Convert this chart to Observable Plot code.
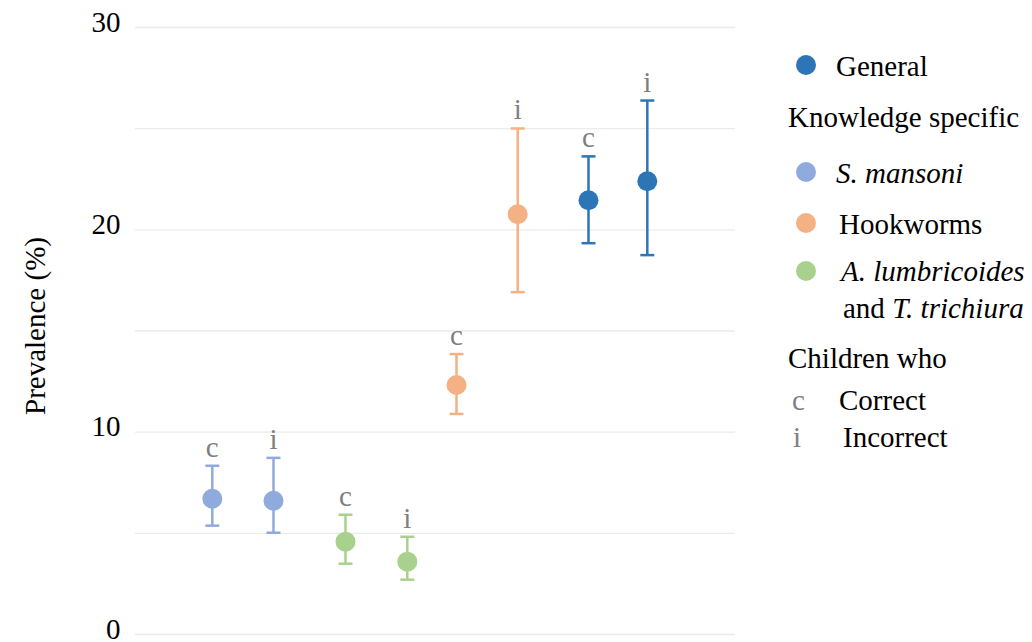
<!DOCTYPE html>
<html><head><meta charset="utf-8">
<script src="https://cdn.jsdelivr.net/npm/d3@7"></script>
<script src="https://cdn.jsdelivr.net/npm/@observablehq/plot@0.6"></script>
<style>
body{margin:0;background:#fff;}
#wrap{position:relative;width:1032px;height:642px;font-family:"Liberation Serif","Times New Roman",serif;}
#wrap > svg{position:absolute;left:0;top:0;}
#wrap svg text{font-family:"Liberation Serif","Times New Roman",serif;}
</style>
</head><body><div id="wrap"></div>
<script>
// ---- data ----
const groups = ["S. mansoni","S. mansoni","A. lumbricoides and T. trichiura","A. lumbricoides and T. trichiura","Hookworms","Hookworms","General","General"];
const answers = ["c","i","c","i","c","i","c","i"];
const slot = [1.28, 2.30, 3.50, 4.53, 5.35, 6.37, 7.55, 8.53];
const prevalence = [6.71, 6.61, 4.59, 3.60, 12.33, 20.77, 21.46, 22.40];
const ciLow = [5.38, 5.03, 3.50, 2.71, 10.90, 16.92, 19.34, 18.75];
const ciHigh = [8.34, 8.73, 5.92, 4.83, 13.86, 25.01, 23.63, 26.39];
const groupNames = ["General","S. mansoni","Hookworms","A. lumbricoides and T. trichiura"];
const groupColors = ["#2E75B6","#8FAADC","#F4B183","#A9D18E"];
const yTicks = [0,10,20,30];
const gridValues = [0,5,10,15,20,25,30];
const answerNames = ["Correct","Incorrect"];

const rows = groups.map((g,i)=>({group:g, answer:answers[i], x:slot[i], y:prevalence[i], lo:ciLow[i], hi:ciHigh[i]}));

const FONT = '"Liberation Serif","Times New Roman",serif';
const cap = {draw(ctx){ ctx.moveTo(-7,0); ctx.lineTo(7,0); }};

const chart = Plot.plot({
  width: 760, height: 642,
  marginLeft: 135, marginRight: 25, marginTop: 27, marginBottom: 8,
  style: {fontFamily: FONT, background: "transparent"},
  x: {domain: [0, 10], axis: null},
  y: {domain: [0, 30]},
  color: {domain: groupNames, range: groupColors},
  marks: [
    Plot.ruleY(gridValues, {stroke: "#ebebeb", strokeWidth: 1.3}),
    Plot.axisY({ticks: yTicks, tickSize: 0, tickPadding: 15, fontSize: 29, fontFamily: FONT, fill: "#000", label: null, dy: -5}),
    Plot.text(["Prevalence (%)"], {frameAnchor: "left", textAnchor: "middle", lineAnchor: "middle", dx: -100, dy: -5, rotate: -90, fontSize: 29, fontFamily: FONT, fill: "#000"}),
    Plot.ruleX(rows, {x: "x", y1: "lo", y2: "hi", stroke: "group", strokeWidth: 2.5}),
    Plot.dot(rows, {x: "x", y: "hi", symbol: cap, stroke: "group", strokeWidth: 2.5, fill: "none"}),
    Plot.dot(rows, {x: "x", y: "lo", symbol: cap, stroke: "group", strokeWidth: 2.5, fill: "none"}),
    Plot.dot(rows, {x: "x", y: "y", fill: "group", r: 10, stroke: "none"}),
    Plot.text(rows, {x: "x", y: "hi", text: "answer", lineAnchor: "bottom", dy: -9, fill: "#7f7f7f", fontSize: 29, fontFamily: FONT})
  ]
});
document.getElementById("wrap").appendChild(chart);

// ---- legend (right side) ----
const leg = d3.select("#wrap").append("svg")
  .attr("width", 1032).attr("height", 642)
  .style("pointer-events","none")
  .attr("font-family", FONT).attr("font-size", 29);

function item(parts, x, y, fill){
  const t = leg.append("text").attr("x", x).attr("y", y).attr("fill", fill || "#000");
  parts.forEach(p => t.append("tspan").attr("font-style", p[1] ? "italic" : "normal").text(p[0]));
}
const dotX = 806;
const colorOf = Object.fromEntries(groupNames.map((g,i)=>[g, groupColors[i]]));
leg.append("circle").attr("cx", dotX).attr("cy", 65).attr("r", 10).attr("fill", colorOf["General"]);
item([["General",0]], 836, 76);
item([["Knowledge specific",0]], 788, 127);
leg.append("circle").attr("cx", dotX).attr("cy", 172).attr("r", 10).attr("fill", colorOf["S. mansoni"]);
item([["S. mansoni",1]], 836, 183);
leg.append("circle").attr("cx", dotX).attr("cy", 223).attr("r", 10).attr("fill", colorOf["Hookworms"]);
item([["Hookworms",0]], 839, 234);
leg.append("circle").attr("cx", dotX).attr("cy", 271).attr("r", 10).attr("fill", colorOf["A. lumbricoides and T. trichiura"]);
item([["A. lumbricoides",1]], 841, 281);
item([["and ",0],["T. trichiura",1]], 843, 318);
item([["Children who",0]], 788, 368);
item([[answers[0],0]], 792, 410, "#7f7f7f");
item([[answerNames[0],0]], 839, 410);
item([[answers[1],0]], 793, 447, "#7f7f7f");
item([[answerNames[1],0]], 843, 447);
</script>
</body></html>
